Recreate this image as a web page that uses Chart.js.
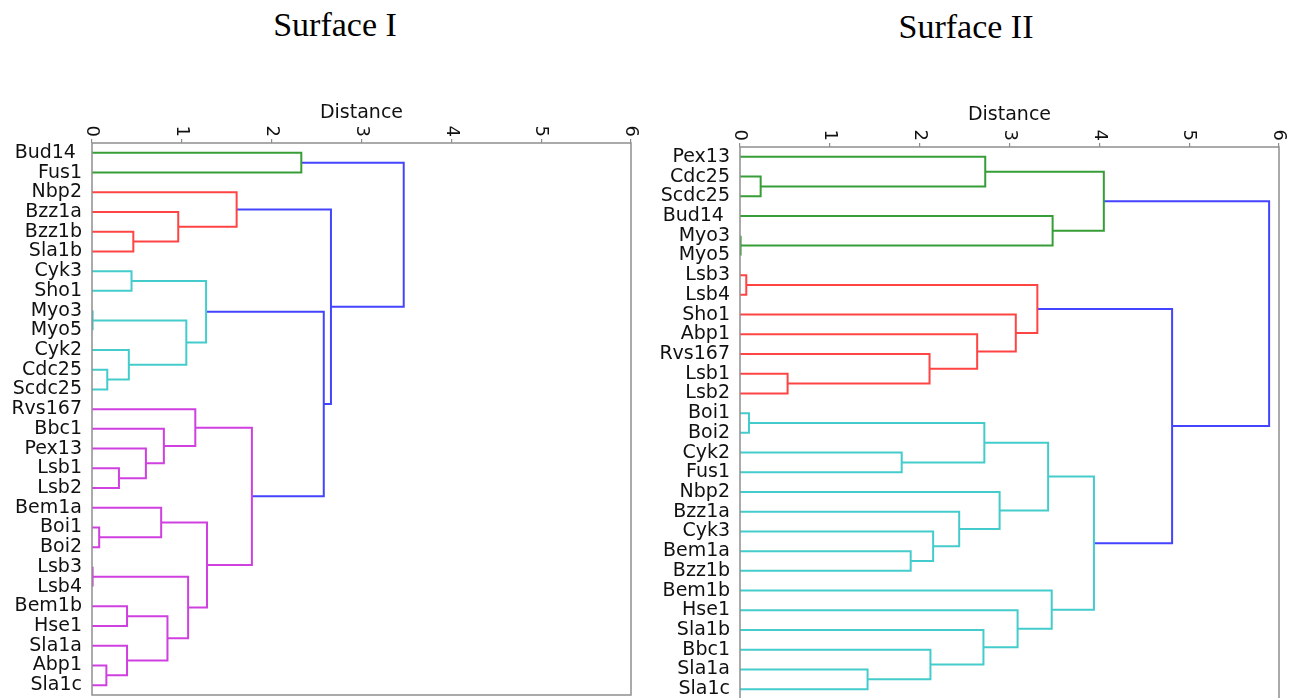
<!DOCTYPE html>
<html>
<head>
<meta charset="utf-8">
<script src="https://cdn.jsdelivr.net/npm/chart.js@4.4.1/dist/chart.umd.min.js"></script>
<style>
    body { margin: 0; background: #fff; overflow: hidden; width: 1292px; height: 698px; position: relative; }
    .panel { position: absolute; top: 0; }
    .title { position: absolute; font-family: "Liberation Serif", serif; font-size: 34px; line-height: 34px; color: #000; text-align: center; width: 300px; }
</style>
</head>
<body>
<div class="title" style="left: 185px; top: 8px;">Surface I</div>
<div class="title" style="left: 816px; top: 10px;">Surface II</div>
<canvas id="surface1" class="panel" style="left: 0px;"></canvas>
<canvas id="surface2" class="panel" style="left: 646px;"></canvas>
<script>
// leaf order (top to bottom) and merges: [left child, right child, distance, colour]
// a child is a leaf name or the index of an earlier merge
const leaves1 = ['Bud14 ', 'Fus1', 'Nbp2', 'Bzz1a', 'Bzz1b', 'Sla1b', 'Cyk3', 'Sho1', 'Myo3', 'Myo5',
    'Cyk2', 'Cdc25', 'Scdc25', 'Rvs167', 'Bbc1', 'Pex13', 'Lsb1', 'Lsb2', 'Bem1a', 'Boi1',
    'Boi2', 'Lsb3', 'Lsb4', 'Bem1b', 'Hse1', 'Sla1a', 'Abp1', 'Sla1c']

const merges1 = [
    ['Bud14 ', 'Fus1', 2.33, 'g'],   // 0
    ['Bzz1b', 'Sla1b', 0.46, 'r'],   // 1
    ['Bzz1a', 1, 0.96, 'r'],         // 2
    ['Nbp2', 2, 1.61, 'r'],          // 3
    ['Cyk3', 'Sho1', 0.44, 'c'],     // 4
    ['Myo3', 'Myo5', 0.01, 'c'],     // 5
    ['Cdc25', 'Scdc25', 0.17, 'c'],  // 6
    ['Cyk2', 6, 0.41, 'c'],          // 7
    [5, 7, 1.05, 'c'],               // 8
    [4, 8, 1.27, 'c'],               // 9
    ['Lsb1', 'Lsb2', 0.30, 'm'],     // 10
    ['Pex13', 10, 0.60, 'm'],        // 11
    ['Bbc1', 11, 0.80, 'm'],         // 12
    ['Rvs167', 12, 1.15, 'm'],       // 13
    ['Boi1', 'Boi2', 0.08, 'm'],     // 14
    ['Bem1a', 14, 0.77, 'm'],        // 15
    ['Lsb3', 'Lsb4', 0.01, 'm'],     // 16
    ['Bem1b', 'Hse1', 0.39, 'm'],    // 17
    ['Abp1', 'Sla1c', 0.16, 'm'],    // 18
    ['Sla1a', 18, 0.39, 'm'],        // 19
    [17, 19, 0.84, 'm'],             // 20
    [16, 20, 1.07, 'm'],             // 21
    [15, 21, 1.28, 'm'],             // 22
    [13, 22, 1.78, 'm'],             // 23
    [9, 23, 2.58, 'b'],              // 24
    [3, 24, 2.66, 'b'],              // 25
    [0, 25, 3.47, 'b'],              // 26
]

const leaves2 = ['Pex13', 'Cdc25', 'Scdc25', 'Bud14 ', 'Myo3', 'Myo5', 'Lsb3', 'Lsb4', 'Sho1', 'Abp1',
    'Rvs167', 'Lsb1', 'Lsb2', 'Boi1', 'Boi2', 'Cyk2', 'Fus1', 'Nbp2', 'Bzz1a', 'Cyk3',
    'Bem1a', 'Bzz1b', 'Bem1b', 'Hse1', 'Sla1b', 'Bbc1', 'Sla1a', 'Sla1c']

const merges2 = [
    ['Cdc25', 'Scdc25', 0.23, 'g'],  // 0
    ['Pex13', 0, 2.73, 'g'],         // 1
    ['Myo3', 'Myo5', 0.01, 'g'],     // 2
    ['Bud14 ', 2, 3.48, 'g'],        // 3
    [1, 3, 4.05, 'g'],               // 4
    ['Lsb3', 'Lsb4', 0.07, 'r'],     // 5
    ['Lsb1', 'Lsb2', 0.53, 'r'],     // 6
    ['Rvs167', 6, 2.11, 'r'],        // 7
    ['Abp1', 7, 2.64, 'r'],          // 8
    ['Sho1', 8, 3.07, 'r'],          // 9
    [5, 9, 3.31, 'r'],               // 10
    ['Boi1', 'Boi2', 0.10, 'c'],     // 11
    ['Cyk2', 'Fus1', 1.80, 'c'],     // 12
    [11, 12, 2.72, 'c'],             // 13
    ['Bem1a', 'Bzz1b', 1.90, 'c'],   // 14
    ['Cyk3', 14, 2.15, 'c'],         // 15
    ['Bzz1a', 15, 2.44, 'c'],        // 16
    ['Nbp2', 16, 2.89, 'c'],         // 17
    [13, 17, 3.43, 'c'],             // 18
    ['Sla1a', 'Sla1c', 1.42, 'c'],   // 19
    ['Bbc1', 19, 2.12, 'c'],         // 20
    ['Sla1b', 20, 2.71, 'c'],        // 21
    ['Hse1', 21, 3.09, 'c'],         // 22
    ['Bem1b', 22, 3.47, 'c'],        // 23
    [18, 23, 3.94, 'c'],             // 24
    [10, 24, 4.81, 'b'],             // 25
    [4, 25, 5.89, 'b'],              // 26
]

const distanceTicks = [0, 1, 2, 3, 4, 5, 6]

const colors = {
    g: 'rgb(55, 158, 55)',
    r: 'rgb(255, 68, 68)',
    c: 'rgb(68, 204, 204)',
    m: 'rgb(208, 64, 224)',
    b: 'rgb(68, 68, 255)',
}

// turn the merge list into U-shaped links, the way scipy's dendrogram does
const buildLinks = (leaves, merges) => {
    const pos = []
    const height = []
    const child = (c) => typeof c === 'number'
        ? { y: pos[c], x: height[c] }
        : { y: leaves.indexOf(c), x: 0 }
    return merges.map((m, i) => {
        const a = child(m[0])
        const b = child(m[1])
        pos[i] = (a.y + b.y) / 2
        height[i] = m[2]
        return {
            data: [{ x: a.x, y: a.y }, { x: m[2], y: a.y }, { x: m[2], y: b.y }, { x: b.x, y: b.y }],
            borderColor: colors[m[3]],
            borderWidth: 2,
            pointRadius: 0,
            showLine: true,
            fill: false,
            tension: 0,
        }
    })
}

// box around the plot and top tick labels written top-to-bottom
const frameAndTicks = {
    id: 'frameAndTicks',
    afterDraw(chart) {
        const { ctx, chartArea: a, scales: { x } } = chart
        ctx.save()
        ctx.strokeStyle = '#8e8e8e'
        ctx.lineWidth = 1.5
        ctx.strokeRect(a.left, a.top, a.right - a.left, a.bottom - a.top)
        ctx.fillStyle = '#111'
        ctx.font = '18px "DejaVu Sans"'
        ctx.textAlign = 'right'
        ctx.textBaseline = 'middle'
        x.ticks.forEach(t => {
            ctx.save()
            ctx.translate(x.getPixelForValue(t.value), a.top - 6)
            ctx.rotate(Math.PI / 2)
            ctx.fillText(String(t.value), 0, 0)
            ctx.restore()
        })
        ctx.restore()
    }
}

const makeDendrogram = (canvasId, leaves, merges, box) => {
    const canvas = document.getElementById(canvasId)
    canvas.width = box.width
    canvas.height = box.height
    canvas.style.width = box.width + 'px'
    canvas.style.height = box.height + 'px'
    return new Chart(canvas, {
        type: 'scatter',
        data: { datasets: buildLinks(leaves, merges) },
        options: {
            responsive: false,
            animation: false,
            layout: { padding: box.padding },
            plugins: {
                legend: { display: false },
                tooltip: { enabled: false },
            },
            scales: {
                x: {
                    type: 'linear',
                    position: 'top',
                    min: 0,
                    max: 6,
                    afterBuildTicks: (s) => { s.ticks = distanceTicks.map(v => ({ value: v })) },
                    afterFit: (s) => { s.height = 53; s.paddingLeft = 0; s.paddingRight = 0 },
                    ticks: { display: false },
                    border: { display: false },
                    grid: { drawOnChartArea: false, drawTicks: true, tickLength: 4, color: '#8e8e8e', lineWidth: 1.2 },
                    title: {
                        display: true,
                        text: 'Distance',
                        color: '#111',
                        font: { family: 'DejaVu Sans', size: 19 },
                        padding: { top: box.titlePad, bottom: 0 },
                    },
                },
                y: {
                    type: 'linear',
                    min: -0.5,
                    max: leaves.length - 0.5,
                    reverse: true,
                    afterBuildTicks: (s) => { s.ticks = leaves.map((_, i) => ({ value: i })) },
                    afterFit: (s) => { s.width = box.yWidth; s.paddingTop = 0; s.paddingBottom = 0 },
                    border: { display: false },
                    grid: { display: false, drawTicks: false },
                    ticks: {
                        autoSkip: false,
                        padding: 10,
                        color: '#111',
                        font: { family: 'DejaVu Sans', size: 19 },
                        callback: (value) => leaves[value],
                    },
                },
            },
        },
        plugins: [frameAndTicks],
    })
}

makeDendrogram('surface1', leaves1, merges1, {
    width: 646, height: 698, yWidth: 92, titlePad: 12,
    padding: { left: 0, right: 15, top: 90, bottom: 3 },
})

makeDendrogram('surface2', leaves2, merges2, {
    width: 646, height: 702, yWidth: 94, titlePad: 10,
    padding: { left: 0, right: 13, top: 94, bottom: 3 },
})
</script>
</body>
</html>
